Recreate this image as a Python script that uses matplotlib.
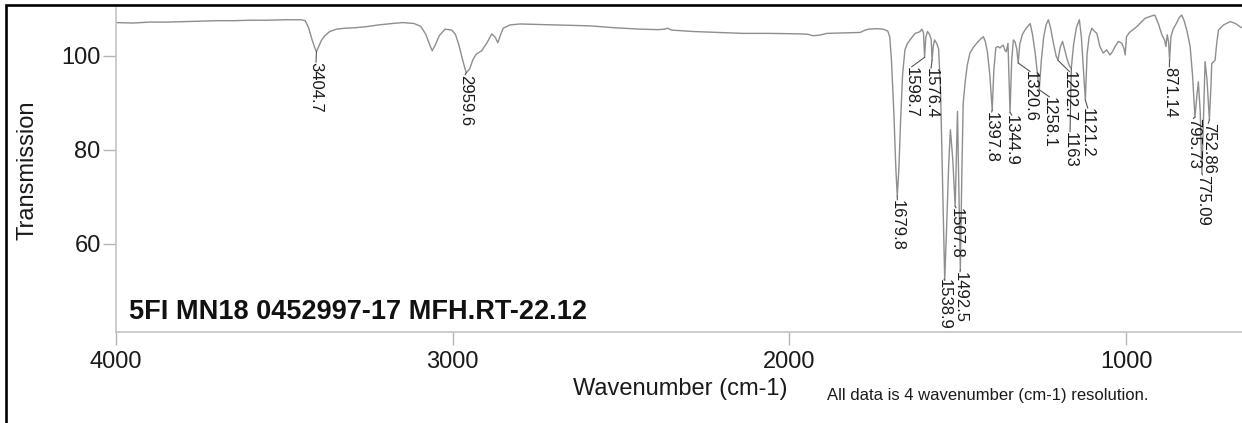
import numpy as np
import matplotlib
matplotlib.use("Agg")
import matplotlib.pyplot as plt
from matplotlib.patches import Rectangle

plt.rcParams['font.family'] = ['Liberation Sans', 'DejaVu Sans']

# ---- spectrum ----
wavenumber = [4000, 3950, 3900, 3850, 3800, 3750, 3700, 3650, 3600, 3550, 3500, 3450,
              3438, 3428, 3418, 3410, 3404.7, 3398, 3390, 3380, 3365, 3345, 3320, 3290,
              3260, 3220, 3180, 3148, 3115, 3095, 3080, 3068, 3061, 3052, 3040, 3023,
              3003, 2992, 2982, 2970, 2960, 2950, 2940, 2930, 2914, 2899, 2884, 2874,
              2866, 2858, 2850, 2830, 2800, 2750, 2700, 2640, 2592, 2520, 2444, 2390,
              2370, 2362, 2350, 2286, 2210, 2138, 2060, 1969, 1945, 1930, 1912, 1889,
              1840, 1790, 1775, 1765, 1740, 1722, 1708, 1702, 1697, 1690, 1684, 1679.8,
              1675, 1670, 1664, 1657, 1650, 1642, 1627, 1618, 1612, 1607, 1602, 1598.7,
              1595, 1590, 1584, 1579, 1576.4, 1573, 1569, 1563, 1557, 1551, 1545, 1538.9,
              1533, 1527, 1522, 1515, 1507.8, 1504, 1501, 1497, 1492.5, 1488, 1484, 1478,
              1472, 1464, 1454, 1444, 1435, 1429, 1424, 1418, 1412, 1405, 1397.8, 1393,
              1387, 1380, 1375, 1369, 1365, 1360, 1356, 1351, 1344.9, 1340, 1335, 1330,
              1325, 1320.6, 1316, 1308, 1298, 1285, 1278, 1270, 1264, 1258.1, 1252, 1245,
              1238, 1231, 1224, 1216, 1208, 1202.7, 1196, 1189, 1182, 1175, 1168, 1163,
              1156, 1148, 1139, 1133, 1127, 1121.2, 1116, 1110, 1102, 1095, 1087, 1078,
              1068, 1058, 1048, 1040, 1033, 1023, 1013, 1006, 1003, 999, 990, 969,
              944, 925, 915, 904, 894, 886, 882, 878, 874, 871.14, 867, 860,
              851, 842, 835, 828, 820, 810, 803, 795.73, 790, 785.6, 780, 775.09,
              770, 765.6, 760, 752.86, 748, 745.8, 740, 736, 731, 726, 711, 691,
              675, 662, 656]
transmission = [107.1, 107.0, 107.2, 107.2, 107.3, 107.4, 107.5, 107.5, 107.6, 107.6, 107.7, 107.7,
                107.5, 106.0, 103.5, 101.8, 100.9, 102.0, 103.3, 104.3, 105.2, 105.7, 105.9, 106.0,
                106.2, 106.6, 106.9, 107.1, 106.9, 106.3, 104.6, 102.3, 101.1, 102.3, 104.3, 105.7,
                105.5, 104.6, 102.4, 99.0, 96.4, 97.2, 99.2, 100.4, 101.1, 102.7, 104.7, 104.0,
                102.8, 104.5, 105.9, 106.6, 106.8, 106.7, 106.6, 106.5, 106.4, 106.0, 105.7, 105.6,
                105.7, 105.9, 105.5, 105.2, 105.0, 104.8, 104.8, 104.7, 104.6, 104.3, 104.4, 104.8,
                104.9, 105.0, 105.5, 105.7, 105.8, 105.7, 105.3, 104.0, 99.0, 88.0, 76.0, 70.2,
                76.0, 86.0, 96.0, 101.3, 102.6, 103.4, 104.8, 105.0, 105.2, 105.7, 105.0, 99.7,
                104.0, 105.2, 104.6, 103.5, 99.1, 102.0, 103.4, 102.7, 101.5, 92.0, 72.0, 52.3,
                64.0, 77.0, 84.3, 78.0, 68.0, 79.0, 88.2, 72.0, 54.5, 75.0, 90.0, 94.5,
                98.0, 100.6, 101.8, 102.7, 103.4, 103.8, 104.1, 103.0, 100.8, 96.0, 88.5, 97.0,
                101.8, 102.0, 101.7, 102.1, 102.3, 101.2, 100.9, 102.7, 88.0, 99.0, 103.4, 103.0,
                101.5, 98.5, 102.5, 104.6, 105.8, 106.9, 104.5, 100.5, 96.5, 92.8, 99.0, 104.0,
                106.6, 107.7, 105.8, 102.7, 100.0, 99.1, 101.8, 103.1, 101.2, 99.2, 97.8, 97.4,
                102.5, 106.0, 107.7, 104.0, 97.0, 90.6, 100.5, 104.1, 105.9, 105.3, 104.8, 102.0,
                100.6, 101.3, 100.2, 101.0, 102.0, 103.1, 102.7, 101.5, 100.2, 104.1, 105.0, 106.2,
                108.0, 108.5, 108.7, 106.8, 104.5, 103.4, 102.0, 104.5, 103.0, 99.1, 104.1, 105.8,
                106.9, 108.2, 108.7, 107.5, 105.5, 102.0, 96.0, 87.0, 91.5, 94.5, 88.0, 75.0,
                88.0, 98.8, 95.0, 86.4, 94.0, 98.4, 98.8, 99.1, 102.7, 105.5, 106.6, 107.3,
                106.9, 106.2, 106.0]

# ---- peak annotations ----
peak_wn = [3404.7, 2959.6, 1679.8, 1598.7, 1576.4, 1538.9, 1507.8, 1492.5, 1397.8,
           1344.9, 1320.6, 1258.1, 1202.7, 1163, 1121.2, 871.14, 795.73, 775.09, 752.86]
peak_text = ["3404.7", "2959.6", "1679.8", "1598.7", "1576.4", "1538.9", "1507.8",
             "1492.5", "1397.8", "1344.9", "1320.6", "1258.1", "1202.7", "1163",
             "1121.2", "871.14", "795.73", "775.09", "752.86"]
# label anchor (top of rotated text) positions in data units
label_wn = [3406, 2963, 1679.6, 1636.8, 1579.4, 1540.8, 1505.2, 1493.3, 1399.2,
            1339.8, 1285.4, 1228.1, 1168.7, 1166.6, 1114.1, 871.7, 800.4, 773.7, 755.9]
label_T = [98.7, 96.0, 69.4, 97.7, 97.4, 52.5, 67.7, 54.1, 88.1,
           87.4, 96.7, 91.3, 96.7, 83.9, 88.9, 97.7, 86.7, 74.7, 85.7]

x_ticks = [4000, 3000, 2000, 1000]
y_ticks = [60, 80, 100]

sample_title = "5FI MN18 0452997-17 MFH.RT-22.12"
x_title = "Wavenumber (cm-1)"
y_title = "Transmission"
note = "All data is 4 wavenumber (cm-1) resolution."

W, H = 1242, 423
fig = plt.figure(figsize=(W / 100, H / 100), dpi=100)
ax = fig.add_axes([116 / W, 91 / H, 1126 / W, 324 / H])

wn = np.array(wavenumber, dtype=float)
tr = np.array(transmission, dtype=float)
ax.plot(wn, tr, color='#8e8e8e', lw=1.0, zorder=2)

ax.set_xlim(4000, 656)
ax.set_ylim(41.27, 110.2)
ax.set_xticks(x_ticks)
ax.set_yticks(y_ticks)

for s in ['top', 'right']:
    ax.spines[s].set_visible(False)
for s in ['left', 'bottom']:
    ax.spines[s].set_color('#c4c4c4')
    ax.spines[s].set_linewidth(1.2)
ax.tick_params(axis='both', direction='out', length=9.5, width=1.0,
               color='#b4b4b4', labelsize=17, labelcolor='#1a1a1a')
ax.tick_params(axis='y', pad=1.5)
ax.tick_params(axis='x', pad=4.5)

# peak labels with leader lines
order = np.argsort(wn)
for pw, txt, lw_, lt in zip(peak_wn, peak_text, label_wn, label_T):
    pt = np.interp(pw, wn[order], tr[order])
    ax.plot([pw, lw_], [pt, lt], color='#555555', lw=0.8, zorder=3)
    ax.text(lw_, lt, txt, rotation=270, ha='center', va='top',
            fontsize=12, color='#1a1a1a', zorder=4)

fig.text(129 / W, (H - 318.5) / H, sample_title, fontsize=19.5, fontweight='bold',
         ha='left', va='baseline', color='#111111')
fig.text(680 / W, (H - 395) / H, x_title, fontsize=17, ha='center', va='baseline',
         color='#1a1a1a')
fig.text(827 / W, (H - 400) / H, note, fontsize=12, ha='left', va='baseline',
         color='#1a1a1a')
fig.text(27 / W, (H - 170) / H, y_title, fontsize=17, rotation=90, ha='center',
         va='center', color='#1a1a1a')

# outer frame
fig.add_artist(Rectangle((6 / W, -0.5), 2.0, (H - 5) / H + 0.5, transform=fig.transFigure,
                         fill=False, edgecolor='black', lw=1.9, clip_on=False))

fig.savefig('out.png', dpi=100)
